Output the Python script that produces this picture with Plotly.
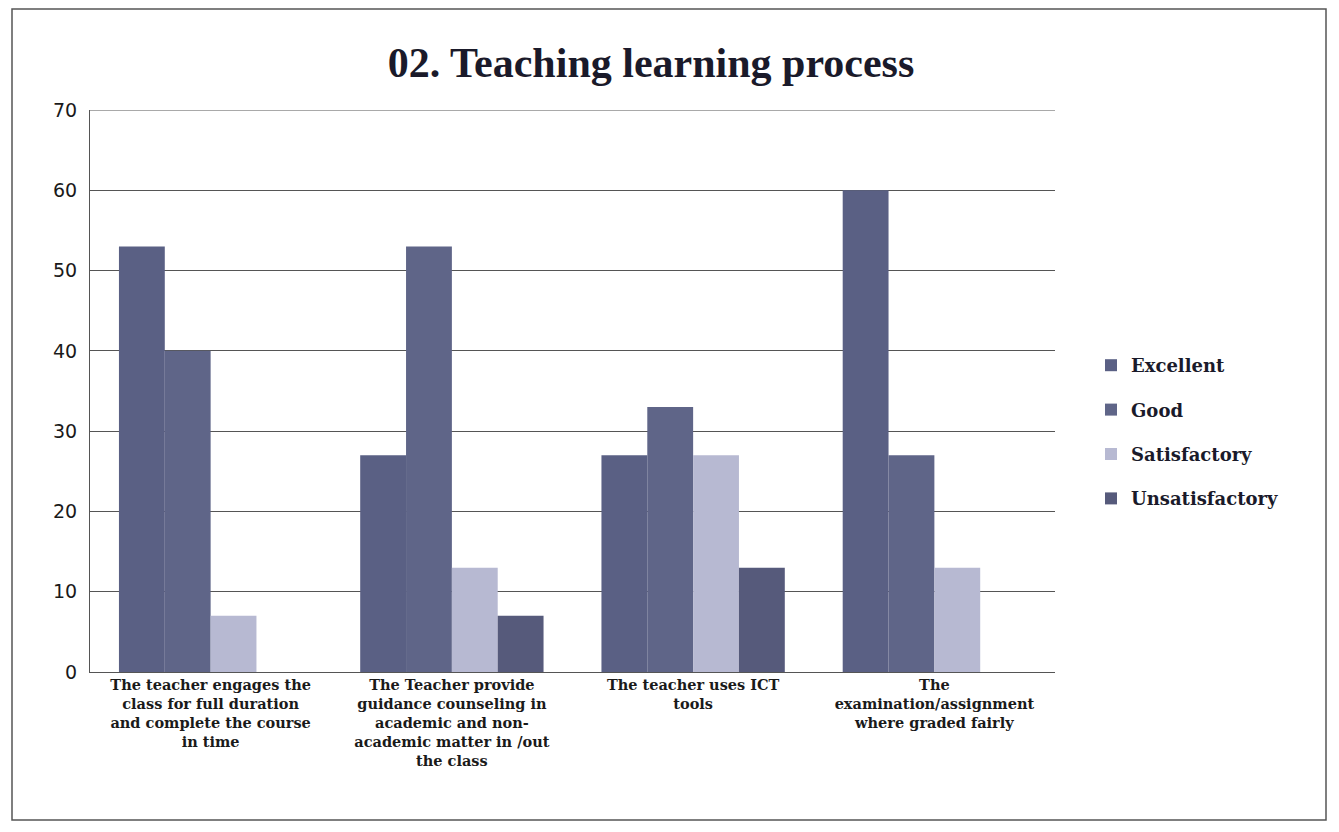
import plotly.graph_objects as go

categories = [
    "The teacher engages the<br>class for full duration<br>and complete the course<br>in time",
    "The Teacher provide<br>guidance counseling in<br>academic and non-<br>academic matter in /out<br>the class",
    "The teacher uses ICT<br>tools",
    "The<br>examination/assignment<br>where graded fairly",
]
series_names = ["Excellent", "Good", "Satisfactory", "Unsatisfactory"]
excellent = [53, 27, 27, 60]
good = [40, 53, 33, 27]
satisfactory = [7, 13, 27, 13]
unsatisfactory = [0, 7, 13, 0]
y_ticks = [0, 10, 20, 30, 40, 50, 60, 70]

values = [excellent, good, satisfactory, unsatisfactory]
colors = ["#5a6084", "#5f6588", "#b7b9d2", "#565a7b"]

OFF = 8  # page body margin
W, H = 1339 - OFF, 832 - OFF
L, R, T, B = 90 - OFF, 1055 - OFF, 110 - OFF, 672 - OFF

fig = go.Figure()
for name, vals, col in zip(series_names, values, colors):
    fig.add_trace(go.Bar(
        x=categories, y=vals, name="<b>" + name + "</b>", legendgroup=name,
        marker=dict(color=col, line=dict(width=0)),
    ))

def px_x(p):
    return (p - OFF - L) / (R - L)

def px_y(p):
    return (B - (p - OFF)) / (B - T)

fig.update_layout(
    width=W, height=H,
    margin=dict(l=L, r=W - R, t=T, b=H - B, autoexpand=False),
    paper_bgcolor="white", plot_bgcolor="white",
    barmode="group", bargap=0.24, bargroupgap=0,
    title=dict(text="<b>02. Teaching learning process</b>", x=(651 - OFF) / W, xanchor="center",
               y=1 - (62 - OFF) / H, yanchor="middle",
               font=dict(family="Liberation Serif", size=42, color="#1a1a2a")),
    legend=dict(x=px_x(1091), xanchor="left", y=px_y(432), yanchor="middle",
                font=dict(family="DejaVu Serif", size=18, color="#1a1a2a"),
                tracegroupgap=18, bgcolor="rgba(0,0,0,0)"),
    showlegend=True,
    yaxis=dict(range=[0, 70], tickvals=y_ticks, showgrid=True, gridcolor="#555555", gridwidth=1,
               zeroline=False, showline=True, linecolor="#555555", linewidth=1,
               ticks="", ticklabelstandoff=8,
               tickfont=dict(family="DejaVu Sans", size=19, color="#1a1a1a")),
    xaxis=dict(showline=True, linecolor="#555555", linewidth=1, ticks="",
               tickangle=0,
               tickfont=dict(family="DejaVu Serif", size=14.5, color="#1a1a1a")),
    shapes=[
        dict(type="rect", xref="paper", yref="paper",
             x0=px_x(12), x1=px_x(1326), y0=px_y(820), y1=px_y(9),
             line=dict(color="#555555", width=1.5), fillcolor="rgba(0,0,0,0)", layer="below"),
        dict(type="line", xref="paper", yref="y", x0=0, x1=1, y0=y_ticks[-1], y1=y_ticks[-1],
             line=dict(color="#555555", width=1), layer="below"),
    ],
)
fig.update_xaxes(ticktext=["<b>" + c + "</b>" for c in categories], tickvals=categories)

fig.write_html("out.html")
